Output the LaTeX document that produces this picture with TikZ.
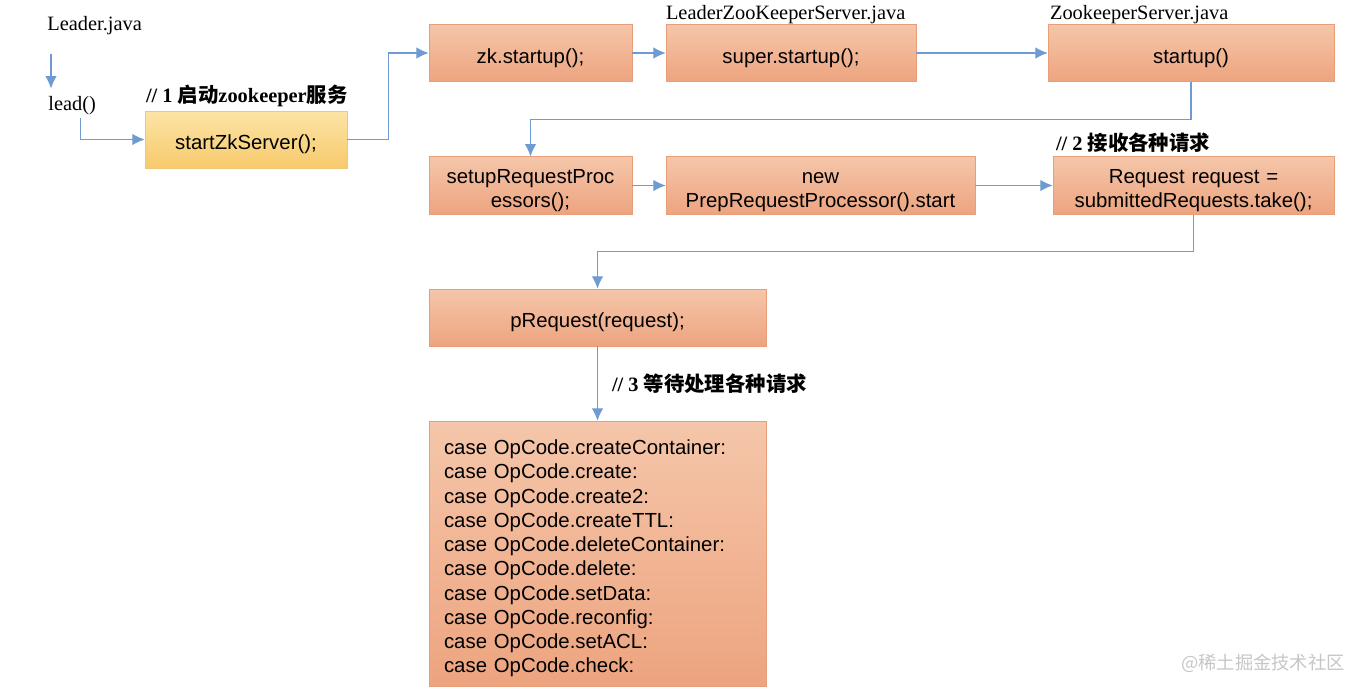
\documentclass[tikz,border=0pt]{standalone}
\usepackage{fontspec}
\setmainfont{Liberation Serif}
\newfontfamily\arialfont{Liberation Sans}
\newfontfamily\cjk{Noto Sans CJK SC}
\newfontfamily\cjkb{Noto Sans CJK SC Bold}
\usepackage{tikz}
\usetikzlibrary{positioning, arrows.meta}
\definecolor{lnblue}{HTML}{6E9BD3}
\definecolor{boxtop}{HTML}{F5C6AA}
\definecolor{boxbot}{HTML}{EDA47F}
\definecolor{boxline}{HTML}{E89E78}
\definecolor{ylwtop}{HTML}{FCE4A6}
\definecolor{ylwbot}{HTML}{F7CA6C}
\definecolor{ylwline}{HTML}{F1C67A}
\tikzstyle{blk}=[draw=boxline, top color=boxtop, bottom color=boxbot, minimum height=1.15cm, inner sep=0pt, align=center,
                 font=\arialfont\fontsize{11.6}{14}\selectfont, execute at begin node={\rule{0pt}{14pt}}]
\tikzstyle{ylw}=[blk, draw=ylwline, top color=ylwtop, bottom color=ylwbot]
\tikzstyle{lbl}=[inner sep=0pt, anchor=west, font=\fontsize{11.6}{14}\selectfont]
\tikzstyle{cmt}=[lbl, font=\bfseries\fontsize{11.6}{14}\selectfont]
\tikzstyle{con}=[draw=lnblue, line width=0.6pt, ->]

\begin{document}
\begin{tikzpicture}[x=0.02cm, y=-0.02cm, > = {Latex[length=7pt,width=6.5pt]}]
    \useasboundingbox (0,0) rectangle (1364,694);
    % call chain, first row
    \node [lbl] (lj) at (47,26) {Leader.java};
    \node [lbl] (lead) at (48,106) {lead()};
    \node [ylw, minimum width=4.04cm, minimum height=1.14cm] (start) at (246,139.5) {startZkServer();};
    \node [blk, minimum width=4.06cm] (zk) at (530.5,53) {zk.startup();};
    \node [blk, minimum width=5.0cm] (super) at (791,53) {super.startup();};
    \node [blk, minimum width=5.72cm] (sstart) at (1191,53) {startup()};
    % second row
    \node [blk, minimum width=4.06cm, text width=3.9cm] (setup) at (530.5,185.5) {setupRequestProc\\essors();};
    \node [blk, minimum width=6.18cm, text width=6.0cm] (prep) at (820.5,185.5) {new\\PrepRequestProcessor().start};
    \node [blk, minimum width=5.62cm, text width=5.5cm] (take) at (1193.5,185.5) {Request request =\\submittedRequests.take();};
    \node [blk, minimum width=6.74cm, minimum height=1.14cm] (preq) at (597.5,317.5) {pRequest(request);};
    \node [blk, minimum width=6.74cm, minimum height=5.3cm, text width=6.14cm, align=left,
           font=\arialfont\fontsize{11.6}{13.8}\selectfont] (cases) at (597.5,553.5)
          {case OpCode.createContainer:\\case OpCode.create:\\case OpCode.create2:\\case OpCode.createTTL:\\
           case OpCode.deleteContainer:\\case OpCode.delete:\\case OpCode.setData:\\case OpCode.reconfig:\\
           case OpCode.setACL:\\case OpCode.check:};
    % file names and comments
    \node [lbl, above right=0pt and 0pt of super.north west] (lzk) {LeaderZooKeeperServer.java};
    \node [lbl, above right=0pt and 0.04cm of sstart.north west] (zks) {ZookeeperServer.java};
    \node [cmt, above right=2pt and 0.02cm of start.north west] (c1) {// 1 {\cjkb 启动}zookeeper{\cjkb 服务}};
    \node [cmt, above right=2pt and 0.06cm of take.north west] (c2) {// 2 {\cjkb 接收各种请求}};
    \node [text=gray!45, inner sep=0pt, font=\cjk\fontsize{10.4}{14}\selectfont] (wm) at (1263,663) {@稀土掘金技术社区};
    % connectors
    \draw [con] ([shift={(4,18)}]lj.south west) -- ([shift={(3,-8)}]lead.north west);
    \draw [con] ([shift={(8.5,2)}]lead.south) |- (start.west);
    \draw [con] (start.east) -- ++(41,0) |- (zk.west);
    \draw [con] (zk) -- (super);
    \draw [con] (super) -- (sstart);
    \draw [con] (sstart.south) -- ++(0,37) -| (setup.north);
    \draw [con] (setup) -- (prep);
    \draw [con] (prep) -- (take);
    \draw [con] (take.south) -- ++(0,37) -| (preq.north);
    \draw [con] (preq) -- node [cmt, xshift=0.28cm] (c3) {// 3 {\cjkb 等待处理各种请求}} (cases);
\end{tikzpicture}
\end{document}
